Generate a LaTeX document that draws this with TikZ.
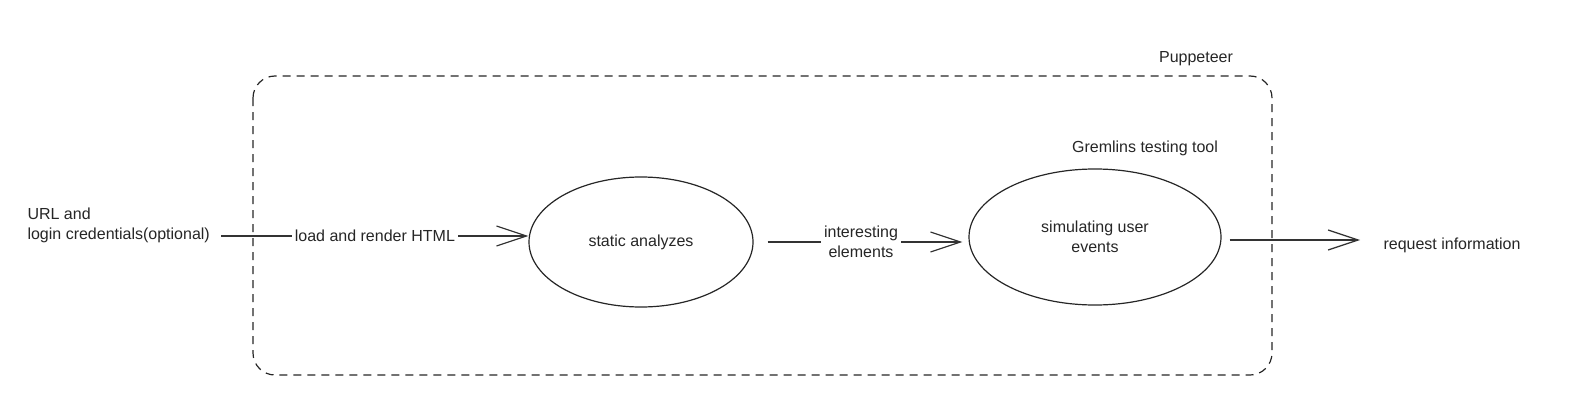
\documentclass[tikz,border=0pt]{standalone}
\usepackage{fontspec}
\setmainfont{Liberation Sans}
\usetikzlibrary{shapes.geometric,arrows.meta}
\begin{document}
\begin{tikzpicture}[x=1pt,y=-1pt,
  every node/.style={font=\fontsize{16}{20}\selectfont, text=black!85},
  frame/.style={draw=black!85, line width=1.2pt, dash pattern=on 8pt off 6pt, rounded corners=22pt},
  bubble/.style={ellipse, draw=black!85, line width=1.2pt, inner sep=0pt},
  flow/.style={draw=black!80, line width=1.2pt, -{Straight Barb[length=30pt,width=20pt,line width=1.2pt]}},
  lbl/.style={fill=white, inner sep=3pt, align=center}
]
\useasboundingbox (0,0) rectangle (1587,404);
\draw[frame] (253,76) rectangle (1272,375);
\node (pup) at (1196,59) {Puppeteer};
\node[align=left, anchor=west] (src) at (24,225) {URL and\\login credentials(optional)};
\node[bubble, minimum width=224pt, minimum height=130pt] (e1) at (641,242) {static analyzes};
\node[bubble, minimum width=252pt, minimum height=136pt, align=center] (e2) at (1095,237) {simulating user\\events};
\node (grem) at (1145,148) {Gremlins testing tool};
\node[anchor=west] (req) at (1380,245) {request information};
\draw[flow] (src.east |- 0,236) ++(8,0) coordinate (a1) -- (e1.west |- 0,236) node[lbl, midway] {load and render HTML};
\draw[flow, shorten <=14pt, shorten >=6pt] (e1.east) -- (e2.west |- e1.east) node[lbl, midway] {interesting\\elements};
\draw[flow, shorten <=8pt, shorten >=20pt] (e2.east |- 0,240) -- (req.west |- 0,240);
\end{tikzpicture}
\end{document}
